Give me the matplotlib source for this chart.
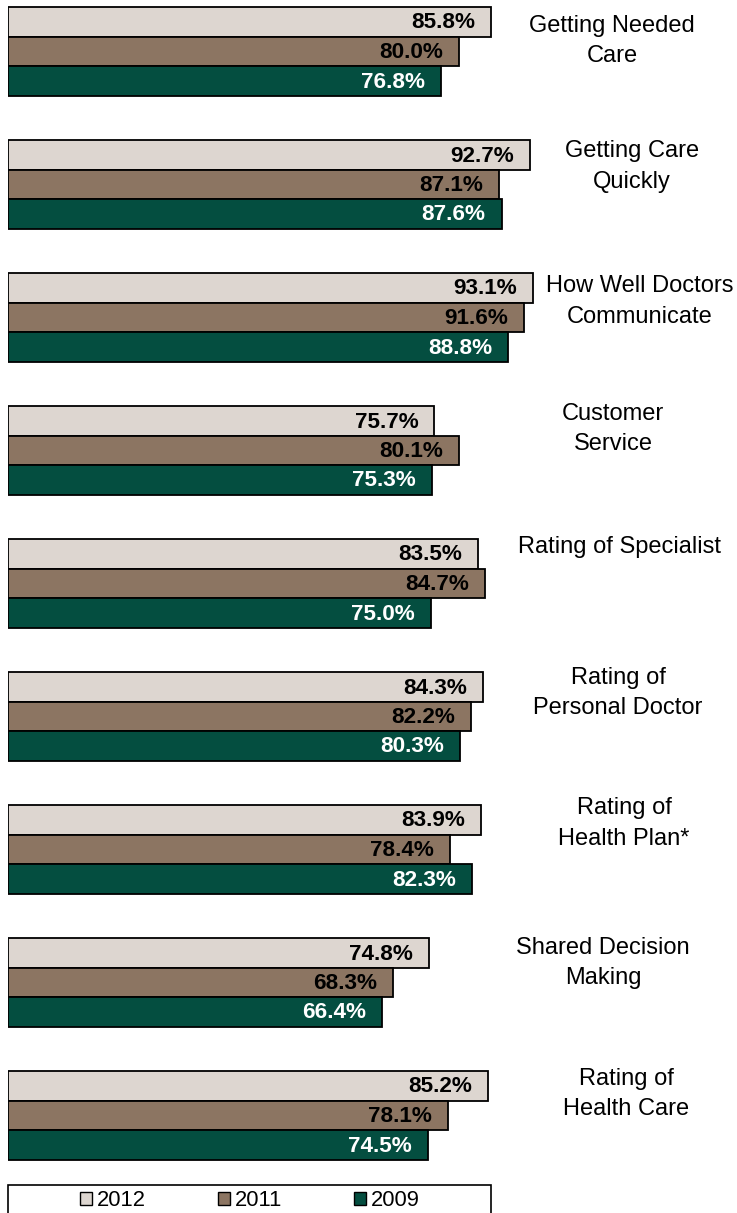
import matplotlib
matplotlib.use("Agg")
import matplotlib.pyplot as plt
from matplotlib.patches import Rectangle, Patch
from matplotlib.transforms import blended_transform_factory
import numpy as np

plt.rcParams['font.family'] = ['Liberation Sans', 'DejaVu Sans']

# ---- data ----
categories = ["Getting Needed\nCare", "Getting Care\nQuickly", "How Well Doctors\nCommunicate",
              "Customer\nService", "Rating of Specialist", "Rating of\nPersonal Doctor",
              "Rating of\nHealth Plan*", "Shared Decision\nMaking", "Rating of\nHealth Care"]
series_names = ["2012", "2011", "2009"]
v2012 = [85.8, 92.7, 93.1, 75.7, 83.5, 84.3, 83.9, 74.8, 85.2]
v2011 = [80.0, 87.1, 91.6, 80.1, 84.7, 82.2, 78.4, 68.3, 78.1]
v2009 = [76.8, 87.6, 88.8, 75.3, 75.0, 80.3, 82.3, 66.4, 74.5]

# ---- style / layout ----
colors = ["#DDD6D0", "#8C7562", "#044E40"]
text_colors = ["black", "black", "white"]
W, H = 737, 1213
pitch = 133.0          # px per group
first_c = 51.5         # px of first group centre
ax_left, ax_w = 7.5, 564.0
ax_top, ax_bot = 0.0, 1170.0
bar_h = 29.5 / pitch
label_x = [612, 632, 640, 613, 620, 618, 624, 603, 626]
label_dy = [-10.5, -18, -16, -21.5, -37, -23.5, -26, -19.5, -21.5]

fig = plt.figure(figsize=(W / 100, H / 100), dpi=100)
ax = fig.add_axes([ax_left / W, 1 - ax_bot / H, ax_w / W, (ax_bot - ax_top) / H])
ax.set_xlim(0, 100)
ax.set_ylim((ax_bot - first_c) / pitch, (ax_top - first_c) / pitch)
ax.axis("off")

series = [v2012, v2011, v2009]
y = np.arange(len(categories))
px_per_unit = ax_w / 100.0
for k, vals in enumerate(series):
    ys = y + (k - 1) * bar_h
    ax.barh(ys, vals, height=bar_h, color=colors[k], edgecolor="black", linewidth=1.3)
    for yi, v in zip(ys, vals):
        ax.text(v - 16 / px_per_unit, yi + 1.0 / pitch, f"{v:.1f}%", ha="right", va="center",
                fontsize=16.2, fontweight="bold", color=text_colors[k])

tr = blended_transform_factory(fig.transFigure, ax.transData)
for i, cat in enumerate(categories):
    ax.text(label_x[i] / W, i + label_dy[i] / pitch, cat, transform=tr,
            ha="center", va="center", multialignment="center",
            fontsize=17, linespacing=1.48)

# legend
fig.patches.append(Rectangle((ax_left / W, -0.01), (491 - ax_left) / W, 1 - 1185 / H + 0.01,
                             transform=fig.transFigure, facecolor="white",
                             edgecolor="black", linewidth=1.2))
handles = [Patch(facecolor=c, edgecolor="black", linewidth=1.0) for c in colors]
fig.legend(handles, series_names, loc="center", ncol=3,
           bbox_to_anchor=(250 / W, 1 - 1201 / H), frameon=False,
           fontsize=15.8, handlelength=0.55, handleheight=0.55,
           handletextpad=0.2, columnspacing=3.3, borderpad=0, borderaxespad=0)

fig.savefig("out.png", dpi=100)
